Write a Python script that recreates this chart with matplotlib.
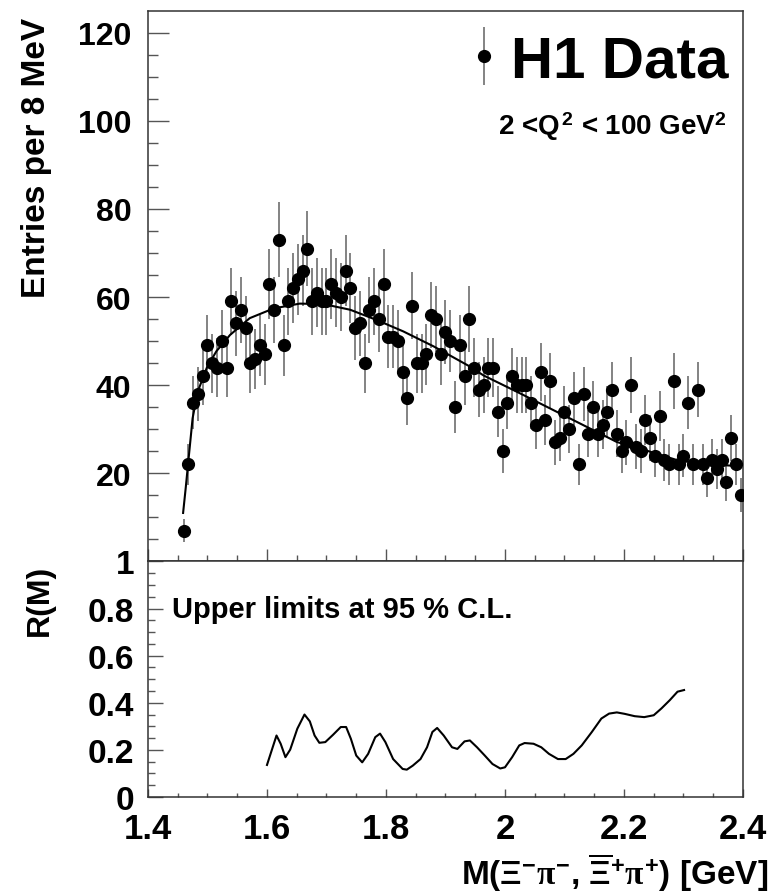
import numpy as np
import matplotlib
matplotlib.use('Agg')
import matplotlib.pyplot as plt
from matplotlib.ticker import MultipleLocator

plt.rcParams['font.family'] = ['Liberation Sans', 'DejaVu Sans']
plt.rcParams['font.weight'] = 'bold'
plt.rcParams['mathtext.fontset'] = 'custom'
plt.rcParams['mathtext.rm'] = 'Liberation Sans:bold'
plt.rcParams['mathtext.bf'] = 'Liberation Sans:bold'
plt.rcParams['mathtext.sf'] = 'Liberation Sans:bold'
plt.rcParams['mathtext.it'] = 'Liberation Serif'

# Data: Xi pi invariant mass, 8 MeV bins
bin_lo = 1.456
bin_width = 0.008
counts = np.array([
    7, 22, 36, 38, 42, 49, 45, 44, 50, 44,
    59, 54, 57, 53, 45, 46, 49, 47, 63, 57,
    73, 49, 59, 62, 64, 66, 71, 59, 61, 59,
    59, 63, 61, 60, 66, 62, 53, 54, 45, 57,
    59, 55, 63, 51, 51, 50, 43, 37, 58, 45,
    45, 47, 56, 55, 47, 52, 50, 35, 49, 42,
    55, 44, 39, 40, 44, 44, 34, 25, 36, 42,
    40, 40, 40, 36, 31, 43, 32, 41, 27, 28,
    34, 30, 37, 22, 38, 29, 35, 29, 31, 34,
    39, 29, 25, 27, 40, 26, 25, 32, 28, 24,
    33, 23, 22, 41, 22, 24, 36, 22, 39, 22,
    19, 23, 21, 23, 18, 28, 22, 15])
mass = bin_lo + bin_width * (np.arange(len(counts)) + 0.5)

# background fit curve
fit_m = [1.459, 1.4635, 1.468, 1.475, 1.4835, 1.499, 1.515, 1.538, 1.571,
         1.611, 1.655, 1.695, 1.740, 1.784, 1.829, 1.880, 1.940, 1.964,
         2.020, 2.076, 2.132, 2.188, 2.244, 2.289, 2.328, 2.395]
fit_y = [11, 16.8, 23, 32.5, 38.5, 44, 47.7, 51.4, 55.2,
         57.4, 58.5, 58.4, 57.1, 54.8, 52.2, 48.8, 44.3, 42.2,
         38.5, 34.7, 30.9, 27.1, 24.9, 23.0, 22.2, 21.6]

# upper limit R(M) at 95% C.L.
ul_m = [1.600, 1.616, 1.623, 1.631, 1.639, 1.651, 1.663, 1.672, 1.680, 1.688,
        1.698, 1.711, 1.724, 1.733, 1.741, 1.750, 1.760, 1.770, 1.782, 1.790,
        1.799, 1.812, 1.828, 1.835, 1.845, 1.858, 1.869, 1.878, 1.886, 1.897,
        1.911, 1.920, 1.932, 1.941, 1.953, 1.966, 1.979, 1.992, 2.000, 2.012,
        2.024, 2.033, 2.048, 2.061, 2.074, 2.089, 2.102, 2.115, 2.129, 2.146,
        2.162, 2.175, 2.188, 2.201, 2.218, 2.234, 2.250, 2.263, 2.277, 2.290,
        2.301]
ul_r = [0.136, 0.261, 0.226, 0.169, 0.201, 0.290, 0.350, 0.321, 0.261, 0.230,
        0.233, 0.264, 0.297, 0.297, 0.247, 0.176, 0.147, 0.183, 0.254, 0.269,
        0.233, 0.161, 0.119, 0.116, 0.133, 0.161, 0.211, 0.276, 0.293, 0.261,
        0.211, 0.204, 0.236, 0.240, 0.211, 0.176, 0.140, 0.121, 0.126, 0.169,
        0.219, 0.229, 0.226, 0.211, 0.183, 0.161, 0.161, 0.183, 0.219, 0.276,
        0.333, 0.354, 0.359, 0.353, 0.343, 0.339, 0.347, 0.376, 0.411, 0.447,
        0.454]

fig = plt.figure(figsize=(7.72, 8.95), dpi=100)
ax1 = fig.add_axes([0.1917, 0.3716, 0.7707, 0.6145])
ax2 = fig.add_axes([0.1917, 0.1084, 0.7707, 0.2632])

spine_col = '#333333'
tick_col = '#555555'

for ax in (ax1, ax2):
    ax.set_xlim(1.4, 2.4)
    for s in ax.spines.values():
        s.set_color(spine_col)
        s.set_linewidth(1.1)
    ax.xaxis.set_major_locator(MultipleLocator(0.2))
    ax.xaxis.set_minor_locator(MultipleLocator(0.05))
    ax.tick_params(which='both', direction='in', color=tick_col, width=1.0,
                   top=False, right=False)

# top panel
eb = ax1.errorbar(mass, counts, yerr=np.sqrt(counts), fmt='o', color='black',
                  ecolor='#7a7a7a', elinewidth=1.3, capsize=0, markersize=8.5,
                  zorder=3)
ax1.plot(fit_m, fit_y, color='black', lw=1.5, zorder=4)
ax1.set_ylim(0, 124.8)
ax1.yaxis.set_minor_locator(MultipleLocator(5))
ax1.set_yticks([20, 40, 60, 80, 100, 120])
ax1.tick_params(axis='y', which='major', length=15, pad=12, labelsize=23)
ax1.tick_params(axis='y', which='minor', length=7)
ax1.tick_params(axis='x', which='major', length=9)
ax1.tick_params(axis='x', which='minor', length=4.5)
ax1.tick_params(axis='x', labelbottom=False)
ax1.set_ylabel('Entries per 8 MeV', fontsize=24, fontweight='bold', loc='top')
ax1.yaxis.set_label_coords(-0.161, 0.99)

leg = ax1.legend(handles=[eb], labels=['H1 Data'], loc='upper right',
                 bbox_to_anchor=(0.975, 0.958), frameon=False,
                 prop={'size': 42, 'weight': 'bold'}, handlelength=0.3,
                 handletextpad=0.3, borderaxespad=0, borderpad=0)
ax1.text(0.973, 0.777, '2 <Q$^{\\,\\mathbf{2}}$ < 100 GeV$^{\\mathbf{2}}$',
         transform=ax1.transAxes, ha='right', va='baseline', fontsize=20,
         fontweight='bold')

# bottom panel
ax2.plot(ul_m, ul_r, color='black', lw=1.5)
ax2.set_ylim(0, 1)
ax2.yaxis.set_major_locator(MultipleLocator(0.2))
ax2.yaxis.set_minor_locator(MultipleLocator(0.05))
ax2.yaxis.set_major_formatter(plt.FuncFormatter(lambda v, p: f'{v:g}'))
ax2.xaxis.set_major_formatter(plt.FuncFormatter(lambda v, p: f'{v:g}'))
ax2.tick_params(axis='y', which='major', length=10.5, pad=10, labelsize=24)
ax2.tick_params(axis='y', which='minor', length=5)
ax2.tick_params(axis='x', which='major', length=5.5, pad=11, labelsize=25)
ax2.tick_params(axis='x', which='minor', length=3)
ax2.set_ylabel('R(M)', fontsize=23, fontweight='bold', loc='top')
ax2.yaxis.set_label_coords(-0.156, 0.991)
ax2.text(0.040, 0.766, 'Upper limits at 95 % C.L.', transform=ax2.transAxes,
         ha='left', va='baseline', fontsize=21, fontweight='bold')

ax2.set_xlabel('M($\\mathit{\\Xi}^{-}\\mathit{\\pi}^{-}$, '
               '$\\overline{\\mathit{\\Xi}}^{+}\\mathit{\\pi}^{+}$) [GeV]',
               fontsize=24, fontweight='bold')
ax2.xaxis.label.set_ha('right')
ax2.xaxis.label.set_va('baseline')
ax2.xaxis.set_label_coords(1.042, -0.37)

fig.savefig('out.png', dpi=100)
